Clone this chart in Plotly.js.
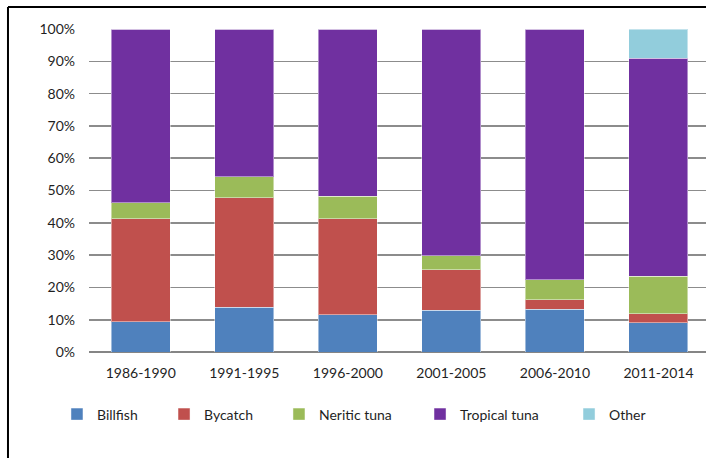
<!DOCTYPE html>
<html>
<head>
<meta charset="utf-8">
<script src="https://cdn.plot.ly/plotly-3.0.1.min.js"></script>
<style>
  html, body { margin: 0; padding: 0; overflow: hidden; background: #fff; }
  #chart { width: 706px; height: 458px; }
</style>
</head>
<body>
<div id="chart"></div>
<script>
const periods = ["1986-1990", "1991-1995", "1996-2000", "2001-2005", "2006-2010", "2011-2014"];
const billfish = [9.4, 13.8, 11.5, 13.0, 13.2, 9.0];
const bycatch = [31.8, 34.0, 29.7, 12.4, 3.0, 2.9];
const neriticTuna = [5.0, 6.4, 7.0, 4.4, 6.1, 11.6];
const tropicalTuna = [53.8, 45.8, 51.8, 70.2, 77.7, 67.4];
const other = [0, 0, 0, 0, 0, 9.1];
const seriesNames = ["Billfish", "Bycatch", "Neritic tuna", "Tropical tuna", "Other"];
const seriesColors = ["#4F81BD", "#C0504D", "#9BBB59", "#7030A0", "#92CDDC"];
const seriesValues = [billfish, bycatch, neriticTuna, tropicalTuna, other];

// one legend box per entry so each entry sits where it does in the reference
const legendIds = ["legend", "legend2", "legend3", "legend4", "legend5"];
const legendX = [-0.0519, 0.1216, 0.3079, 0.5365, 0.7780];

const traces = seriesValues.map((vals, i) => ({
  type: "bar",
  name: seriesNames[i],
  legend: legendIds[i],
  x: periods,
  y: vals.map(v => v / 100),
  width: 0.57,
  marker: { color: seriesColors[i], line: { color: "rgba(255,255,255,0.45)", width: 1 } },
  hoverinfo: "skip"
}));

const layout = {
  width: 706, height: 458,
  margin: { l: 89, r: 0, t: 29, b: 106, pad: 0 },
  barmode: "stack",
  bargap: 0.43,
  paper_bgcolor: "#fff",
  plot_bgcolor: "#fff",
  font: { family: "Lato, 'Open Sans', sans-serif", size: 14, color: "#1f1f1f" },
  showlegend: true,
  xaxis: {
    type: "category",
    range: [-0.5, 5.459],
    showgrid: false,
    showline: false,
    zeroline: false,
    ticks: "",
    ticklabelstandoff: 11,
    fixedrange: true
  },
  yaxis: {
    range: [0, 1],
    dtick: 0.1,
    tick0: 0,
    tickformat: ".0%",
    showgrid: true,
    gridcolor: "#8c8c8c",
    gridwidth: 1.6,
    zeroline: true,
    zerolinecolor: "#858585",
    zerolinewidth: 2.5,
    showline: false,
    ticks: "",
    ticklabelstandoff: 13,
    fixedrange: true
  },
  shapes: [
    { type: "line", xref: "paper", yref: "paper", x0: -0.1313, x1: -0.1313, y0: -0.4, y1: 1.0681, line: { color: "#000", width: 2 } },
    { type: "line", xref: "paper", yref: "paper", x0: -0.1313, x1: 1.05, y0: 1.0681, y1: 1.0681, line: { color: "#000", width: 2 } }
  ]
};

legendIds.forEach((id, i) => {
  layout[id] = {
    orientation: "h",
    x: legendX[i], xanchor: "left",
    y: -0.144, yanchor: "top",
    font: { size: 14, color: "#1f1f1f" },
    itemwidth: 30,
    bgcolor: "rgba(0,0,0,0)"
  };
});

Plotly.newPlot("chart", traces, layout, { displayModeBar: false, staticPlot: true });
</script>
</body>
</html>
